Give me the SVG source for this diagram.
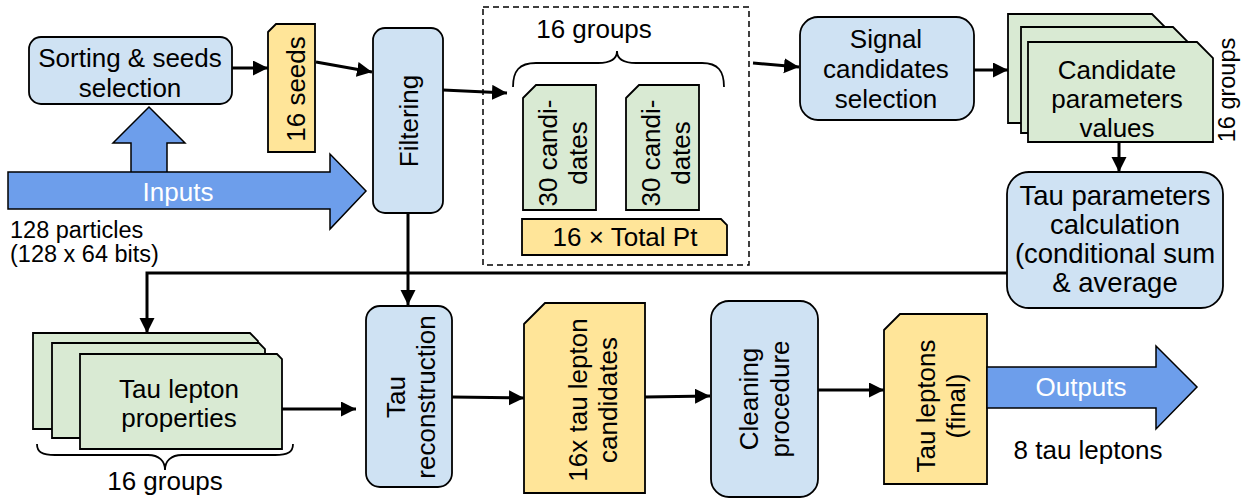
<svg xmlns="http://www.w3.org/2000/svg" width="1247" height="499" viewBox="0 0 1247 499">
<style>
text{font-family:"Liberation Sans",Arial,sans-serif;font-size:26px;fill:#000;text-anchor:middle}
.blue{fill:#cfe2f3;stroke:#000;stroke-width:1.8}
.green{fill:#d9ead3;stroke:#000;stroke-width:1.8}
.yellow{fill:#ffe599;stroke:#000;stroke-width:1.8}
.big{fill:#6d9eeb;stroke:#000;stroke-width:1.5}
.wt{fill:#fff}
.con{fill:none;stroke:#000;stroke-width:3}
.brace{fill:none;stroke:#000;stroke-width:1.8}
.sm{font-size:23.5px}
.lt{text-anchor:start}
</style>
<defs>
<marker id="ah" markerUnits="userSpaceOnUse" markerWidth="16" markerHeight="16" refX="15" refY="7.5" orient="auto">
<path d="M0,0 L15,7.5 L0,15 Z" fill="#000"/>
</marker>
</defs>

<g id="up-arrow"><polygon class="big" points="131,173 131,143 113,143 149,107 185,143 167,143 167,173"/></g>
<g id="inputs"><polygon class="big" points="8,172 330,172 330,154 366,191 330,229 330,209 8,209"/><text class="wt" x="178" y="201">Inputs</text></g>
<g id="inputs-label"><text class="sm lt" x="10" y="238">128 particles</text><text class="sm lt" x="10" y="262">(128 x 64 bits)</text></g>

<g id="sorting"><rect class="blue" x="29" y="37" width="203" height="67" rx="12"/><text x="130" y="67">Sorting &amp; seeds</text><text x="130" y="97">selection</text></g>

<g id="seeds"><path class="yellow" d="M268,32 L276,24 L315,24 L315,152 L268,152 Z"/><text transform="translate(305,89) rotate(-90)">16 seeds</text></g>

<g id="filtering"><rect class="blue" x="373" y="28" width="70" height="185" rx="12"/><text transform="translate(418,121) rotate(-90)">Filtering</text></g>

<g id="groups-box">
<rect x="483" y="7" width="266" height="258" fill="none" stroke="#000" stroke-width="1.5" stroke-dasharray="6,4"/>
<text x="594" y="38">16 groups</text>
<path class="brace" d="M513,87 C513,71 519,63 536,63 L598,63 C610,63 617,59 617,51 C617,59 624,63 636,63 L702,63 C718,63 724,71 724,87"/>
</g>
<g id="cand1"><path class="green" d="M523,98 L536,85 L596,85 L596,210 L523,210 Z"/><text transform="translate(557,153) rotate(-90)">30 candi-</text><text transform="translate(587,153) rotate(-90)">dates</text></g>
<g id="cand2"><path class="green" d="M626,98 L639,85 L699,85 L699,210 L626,210 Z"/><text transform="translate(660,153) rotate(-90)">30 candi-</text><text transform="translate(690,153) rotate(-90)">dates</text></g>
<g id="totalpt"><path class="yellow" d="M522,219 L721,219 L727,225 L727,255 L522,255 Z"/><text x="625" y="246">16 × Total Pt</text></g>

<g id="signal"><rect class="blue" x="800" y="17" width="174" height="103" rx="18"/><text x="886" y="48">Signal</text><text x="886" y="78">candidates</text><text x="886" y="108">selection</text></g>

<g id="cand-params">
<path class="green" d="M1008,14 L1152,14 L1167,29 L1167,123 L1008,123 Z"/>
<path class="green" d="M1021,27 L1173,27 L1188,42 L1188,133 L1021,133 Z"/>
<path class="green" d="M1028,42 L1197,42 L1213,58 L1213,142 L1028,142 Z"/>
<text x="1117" y="79">Candidate</text><text x="1117" y="108">parameters</text><text x="1117" y="137">values</text>
<text class="sm" transform="translate(1235,90) rotate(-90)">16 groups</text>
</g>

<g id="tau-params"><rect class="blue" x="1007" y="172" width="216" height="136" rx="22"/>
<text x="1115" y="205" style="font-size:27.5px">Tau parameters</text><text x="1115" y="234" style="font-size:27.5px">calculation</text><text x="1115" y="263" style="font-size:27.5px">(conditional sum</text><text x="1115" y="292" style="font-size:27.5px">&amp; average</text></g>

<g id="tau-props">
<path class="green" d="M33,333 L250,333 L258,341 L258,429 L33,429 Z"/>
<path class="green" d="M52,343 L259,343 L265,349 L265,438 L52,438 Z"/>
<path class="green" d="M80,354 L277,354 L282,359 L282,449 L80,449 Z"/>
<text x="179" y="398">Tau lepton</text><text x="179" y="427">properties</text>
<path class="brace" d="M37,444 C37,452 42,455 55,455 L148,455 C159,455 165,461 165,470 C165,461 171,455 182,455 L275,455 C288,455 293,452 293,444"/>
<text x="165" y="490">16 groups</text>
</g>

<g id="reconstruction"><rect class="blue" x="366" y="306" width="86" height="181" rx="14"/><text transform="translate(405,397) rotate(-90)">Tau</text><text transform="translate(435,397) rotate(-90)">reconstruction</text></g>

<g id="candidates16"><path class="yellow" d="M524,324 L545,303 L645,303 L645,493 L524,493 Z"/><text transform="translate(587,400) rotate(-90)">16x tau lepton</text><text transform="translate(617,400) rotate(-90)">candidates</text></g>

<g id="cleaning"><rect class="blue" x="711" y="301" width="107" height="196" rx="18"/><text transform="translate(758,399) rotate(-90)">Cleaning</text><text transform="translate(789,399) rotate(-90)">procedure</text></g>

<g id="final"><path class="yellow" d="M884,330 L900,314 L987,314 L987,484 L884,484 Z"/><text transform="translate(935,406) rotate(-90)">Tau leptons</text><text transform="translate(965,406) rotate(-90)">(final)</text></g>

<g id="outputs"><polygon class="big" points="987,367 1156,367 1156,346 1197,387 1156,429 1156,408 987,408"/><text class="wt" x="1081" y="396">Outputs</text><text x="1088" y="459">8 tau leptons</text></g>

<g id="connectors">
<line class="con" x1="232" y1="68" x2="268" y2="68" marker-end="url(#ah)"/>
<line class="con" x1="316" y1="62" x2="372" y2="72" marker-end="url(#ah)"/>
<line class="con" x1="443" y1="90" x2="507" y2="93" marker-end="url(#ah)"/>
<line class="con" x1="753" y1="63" x2="799" y2="67" marker-end="url(#ah)"/>
<line class="con" x1="974" y1="70" x2="1008" y2="70" marker-end="url(#ah)"/>
<line class="con" x1="1119" y1="142" x2="1119" y2="172" marker-end="url(#ah)"/>
<polyline class="con" points="1007,273 147,273 147,333" marker-end="url(#ah)"/>
<line class="con" x1="408" y1="213" x2="408" y2="305" marker-end="url(#ah)"/>
<line class="con" x1="282" y1="409" x2="356" y2="409" marker-end="url(#ah)"/>
<line class="con" x1="452" y1="397" x2="524" y2="398" marker-end="url(#ah)"/>
<line class="con" x1="645" y1="397" x2="710" y2="396" marker-end="url(#ah)"/>
<line class="con" x1="818" y1="390" x2="884" y2="390" marker-end="url(#ah)"/>
</g>
</svg>
